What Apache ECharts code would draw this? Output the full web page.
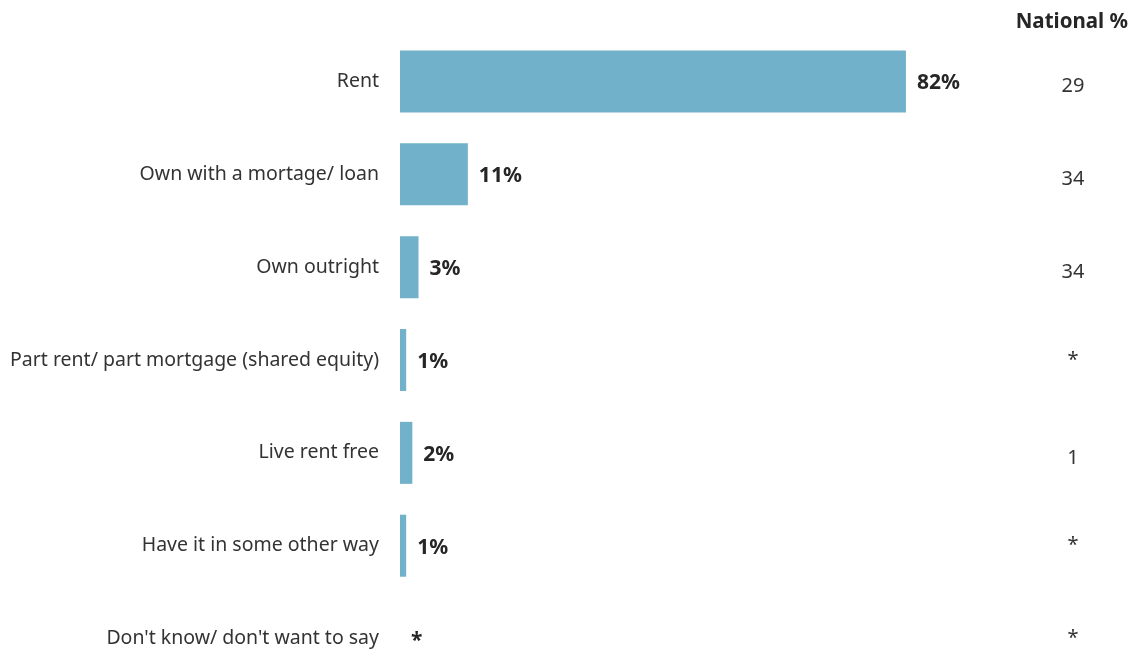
<!DOCTYPE html>
<html>
<head>
<meta charset="utf-8">
<script src="https://cdn.jsdelivr.net/npm/echarts@6/dist/echarts.min.js"></script>
<style>
  html, body { margin: 0; padding: 0; background: #ffffff; overflow: hidden; }
  /* the last row's band runs past the visible 650px, so the canvas is taller */
  #chart { width: 1140px; height: 690px; }
</style>
</head>
<body>
<div id="chart"></div>
<script>
// Housing tenure: local share (bars) with national comparison column
const categories = [
  'Rent',
  'Own with a mortage/ loan',
  'Own outright',
  'Part rent/ part mortgage (shared equity)',
  'Live rent free',
  'Have it in some other way',
  "Don't know/ don't want to say"
];
const localPct = [82, 11, 3, 1, 2, 1, 0];
const nationalPct = ['29', '34', '34', '*', '1', '*', '*'];

const FONT = '"Noto Sans", "Open Sans", sans-serif';
const TEXT = '#333333';

const chart = echarts.init(document.getElementById('chart'), null, { renderer: 'canvas' });

chart.setOption({
  animation: false,
  title: {
    text: 'National %',
    right: 7,
    top: 7,
    textStyle: { fontFamily: FONT, fontSize: 20.5, fontWeight: 'bold', color: '#262626' }
  },
  grid: { left: 400, top: 35, width: 617, height: 650, containLabel: false },
  xAxis: {
    type: 'value',
    min: 0,
    max: 100,
    show: false
  },
  yAxis: [
    {
      type: 'category',
      data: categories,
      inverse: true,
      axisLine: { show: false },
      axisTick: { show: false },
      splitLine: { show: false },
      axisLabel: { margin: 21, fontFamily: FONT, fontSize: 19.5, color: TEXT }
    },
    {
      type: 'category',
      data: nationalPct,
      inverse: true,
      position: 'right',
      axisLine: { show: false },
      axisTick: { show: false },
      splitLine: { show: false },
      axisLabel: {
        margin: 56,
        align: 'center',
        // numbers sit a little below the row centre; asterisks stay centred
        formatter: v => (v === '*' ? '{s|*}' : '{n|' + v + '}'),
        rich: {
          n: { padding: [10, 0, 0, 0], fontFamily: FONT, fontSize: 20, color: TEXT },
          s: { fontFamily: FONT, fontSize: 20, color: TEXT }
        }
      }
    }
  ],
  series: [
    {
      type: 'bar',
      data: localPct,
      barWidth: 62,
      itemStyle: { color: '#71b1c9' },
      label: {
        show: true,
        position: 'right',
        distance: 11,
        offset: [0, 2],
        fontFamily: FONT,
        fontSize: 21,
        fontWeight: 'bold',
        color: '#262626',
        formatter: p => (p.value === 0 ? '*' : p.value + '%')
      }
    }
  ]
});
</script>
</body>
</html>
